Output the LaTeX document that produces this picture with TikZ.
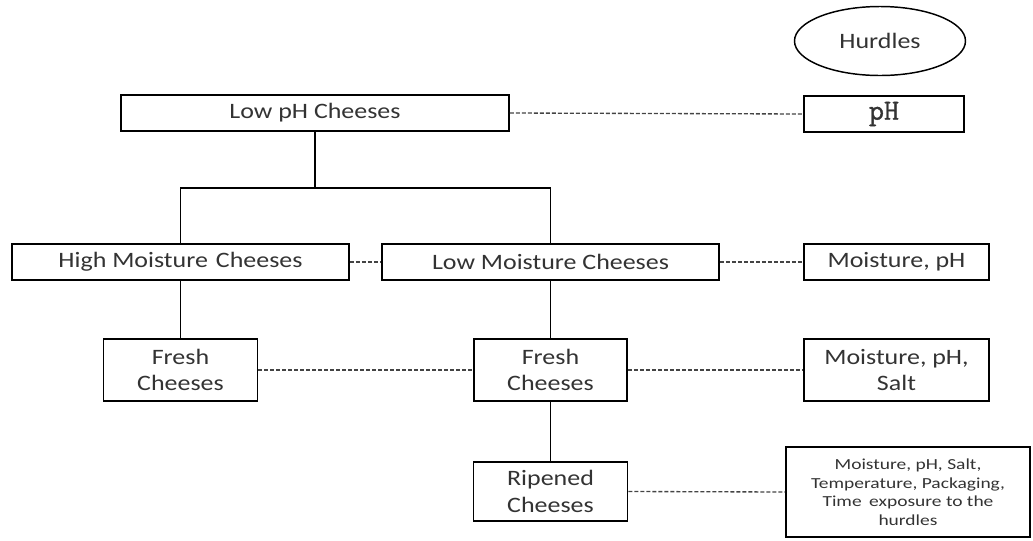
\documentclass[tikz,border=0pt]{standalone}
\usepackage{fontspec}
\setmainfont{Carlito}[FakeStretch=1.18]
\newfontfamily\smallfont{Carlito}[FakeStretch=1.27]
\newfontfamily\phfont{Latin Modern Mono}[FakeBold=1.2]
\usetikzlibrary{shapes.geometric}

\definecolor{inkgray}{HTML}{333333}
\definecolor{linkgray}{HTML}{444444}

% one pixel of the layout in pt
\def\pxu{0.75}

\tikzset{
    cheesebox/.style={draw, line width=1.2pt, inner sep=0pt, align=center,
        text=inkgray, font=\fontsize{16.5}{20}\selectfont},
    hurdlelink/.style={dashed, dash pattern=on 3pt off 1.5pt, line width=1pt, color=linkgray},
    treelink/.style={line width=1.2pt}
}

\begin{document}
\begin{tikzpicture}[x=0.75pt, y=-0.75pt]

    % frame
    \useasboundingbox (0,0) rectangle (1033,540);

    % hurdles legend
    \node[ellipse, draw, line width=1.1pt, minimum width=\pxu*171pt, minimum height=\pxu*69pt, inner sep=0pt,
          text=inkgray, font=\fontsize{16.5}{20}\selectfont] (hurdles) at (880,41) {Hurdles};

    % cheese tree
    \node[cheesebox, minimum width=\pxu*388pt, minimum height=\pxu*36pt] (lowph) at (315,113) {Low pH Cheeses};
    \node[cheesebox, minimum width=\pxu*337pt, minimum height=\pxu*36pt] (highm) at (180.5,262) {High Moisture\hspace{0.1em} Cheeses};
    \node[cheesebox, minimum width=\pxu*337pt, minimum height=\pxu*36pt] (lowm) at (550.5,262) {Low Moisture Cheeses};
    \node[cheesebox, minimum width=\pxu*154pt, minimum height=\pxu*62pt] (freshl) at (180.5,370) {Fresh\\Cheeses};
    \node[cheesebox, minimum width=\pxu*153pt, minimum height=\pxu*62pt] (freshm) at (550.5,370) {Fresh\\Cheeses};
    \node[cheesebox, minimum width=\pxu*154pt, minimum height=\pxu*59pt] (ripened) at (550.5,491.5) {Ripened\\Cheeses};

    % hurdles per group
    \node[cheesebox, minimum width=\pxu*160pt, minimum height=\pxu*36pt] (ph) at (884,114) {\phfont\fontsize{22}{22}\selectfont pH};
    \node[cheesebox, minimum width=\pxu*185pt, minimum height=\pxu*36pt] (moistph) at (896.5,262) {Moisture, pH};
    \node[cheesebox, minimum width=\pxu*185pt, minimum height=\pxu*62pt] (salt) at (896.5,370) {Moisture, pH,\\Salt};
    \node[cheesebox, minimum width=\pxu*244pt, minimum height=\pxu*90pt, font=\smallfont\fontsize{11.5}{13.9}\selectfont] (allh) at (908,492)
        {Moisture, pH, Salt,\\Temperature, Packaging,\\Time\hspace{0.2em} exposure to the\\hurdles};

    % tree lines
    \coordinate (split) at (315,188);
    \draw[treelink] (lowph.south) -- (split);
    \draw[treelink] (highm.north) |- (split) -| (lowm.north);
    \draw[treelink] (highm.south) -- (freshl.north);
    \draw[treelink] (lowm.south) -- (freshm.north);
    \draw[treelink] (freshm.south) -- (ripened.north);

    % dashed links
    \draw[hurdlelink] (lowph.east) -- (ph.west);
    \draw[hurdlelink] (highm.east) -- (lowm.west);
    \draw[hurdlelink] (lowm.east) -- (moistph.west);
    \draw[hurdlelink] (freshl.east) -- (freshm.west);
    \draw[hurdlelink] (freshm.east) -- (salt.west);
    \draw[hurdlelink] (ripened.east) -- (allh.west);

\end{tikzpicture}
\end{document}
